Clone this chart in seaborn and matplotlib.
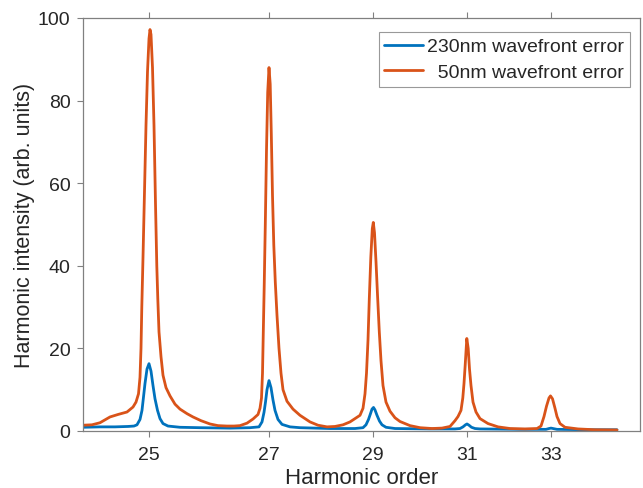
import numpy as np
import pandas as pd
import matplotlib
matplotlib.use("Agg")
import matplotlib.pyplot as plt
import seaborn as sns

# Detector position (axis units) and intensity
orange_x = [83, 92, 100, 110, 118, 127, 133, 136, 138.5, 140, 141, 141.8, 143, 144.5, 146, 147.5, 149, 150, 151,
            152.5, 154, 155.5, 156.8, 157.8, 159, 161, 163, 166, 170, 175, 180, 187, 193, 201, 210, 218, 227,
            234, 240, 247, 253, 258, 260, 261.5, 262.5, 263.3, 264.2, 265.3, 266.5, 267.7, 269, 270.2, 271.3,
            272.5, 273.8, 275.3, 277, 279, 281, 283, 287, 293, 300, 310, 318, 327, 335, 343, 350, 355, 360, 363,
            365, 366.5, 368, 369.3, 370.8, 372.3, 373.3, 374.5, 376, 377.5, 379.3, 381, 383, 386, 390, 395, 400,
            410, 420, 432, 442, 450, 455, 458, 461, 462.8, 464, 465.2, 466.8, 468.2, 469.5, 471, 473, 476, 480,
            488, 498, 510, 525, 537, 541, 544, 546.5, 549, 550.5, 552.5, 555, 557, 560, 565, 578, 595, 617]
orange_y = [1.4, 1.5, 2.0, 3.4, 4.0, 4.6, 5.8, 7, 9, 13, 20, 30, 42, 58, 74, 87, 95, 97.2, 96,
            88, 74, 55, 40, 32, 24, 18, 13.5, 10.5, 8.5, 6.5, 5.3, 4.2, 3.4, 2.5, 1.7, 1.3, 1.2,
            1.2, 1.3, 1.9, 2.9, 4.0, 5.5, 8, 14, 24, 35, 50, 68, 82, 88, 84, 72,
            57, 45, 36, 28, 20, 14, 10, 7.2, 5.3, 3.8, 2.2, 1.4, 1.0, 1.1, 1.5, 2.2, 3.0, 3.8, 5.5,
            9, 14, 22, 32, 42, 49, 50.5, 48, 41, 33, 24, 17, 11, 7, 4.8, 3.2, 2.3,
            1.3, 0.8, 0.6, 0.7, 1.1, 2.5, 3.5, 5, 8, 11.5, 16, 22.4, 20, 15, 11, 7, 4.6, 3,
            1.8, 1.0, 0.6, 0.5, 0.6, 1.2, 3.5, 6, 8, 8.5, 7.8, 5.5, 3.5, 1.8, 0.9, 0.5, 0.3, 0.25]

blue_x = [83, 100, 115, 128, 134, 137, 140, 142, 143.3, 145, 147, 149, 151, 153, 155, 157.5, 160, 163, 168, 180,
          200, 230, 250, 259, 262, 264, 265.5, 267, 269, 271, 273, 275, 278, 282, 290, 300, 330, 355, 363, 366,
          368.5, 370.5, 372, 373.5, 375, 377, 379.5, 382, 386, 395, 430, 455, 460, 463, 465.5, 467, 469, 471.5,
          475, 480, 520, 546, 549, 551, 553, 557, 590, 617]
blue_y = [0.9, 1.0, 1.0, 1.1, 1.2, 1.5, 2.8, 5, 7.8, 11.5, 15, 16.3, 14.5, 11, 7.8, 5, 3, 1.8, 1.2, 0.9,
          0.8, 0.7, 0.8, 1.0, 2.2, 4.5, 7, 10, 12.2, 10.5, 7.5, 5, 2.8, 1.6, 1.0, 0.8, 0.6, 0.6, 0.8, 1.5,
          2.8, 4.2, 5.3, 5.7, 5.1, 3.8, 2.4, 1.5, 0.9, 0.6, 0.5, 0.5, 0.6, 1.0, 1.5, 1.7, 1.4, 0.9,
          0.6, 0.5, 0.4, 0.4, 0.6, 0.7, 0.6, 0.4, 0.3, 0.3]

series_names = ["230nm wavefront error", "  50nm wavefront error"]
series_colors = ["#0072BD", "#D95319"]

tick_positions = [149, 269, 373, 467, 551]
tick_labels = ["25", "27", "29", "31", "33"]

df = pd.concat([
    pd.DataFrame({"pos": blue_x, "intensity": blue_y, "series": series_names[0]}),
    pd.DataFrame({"pos": orange_x, "intensity": orange_y, "series": series_names[1]}),
], ignore_index=True)

sns.set_style("white")
plt.rcParams["font.family"] = ["Liberation Sans", "DejaVu Sans"]

fig = plt.figure(figsize=(6.43, 4.89), dpi=100)
ax = fig.add_axes([83 / 643, 1 - 432 / 489, (640 - 83) / 643, (432 - 19) / 489])

sns.lineplot(data=df, x="pos", y="intensity", hue="series", hue_order=series_names,
             palette=series_colors, estimator=None, sort=False, linewidth=2.0, ax=ax)

ax.set_xlim(83, 640)
ax.set_ylim(0, 100)
ax.set_xticks(tick_positions)
ax.set_xticklabels(tick_labels)
ax.set_yticks([0, 20, 40, 60, 80, 100])

spine_col = "#808080"
for s in ax.spines.values():
    s.set_color(spine_col)
    s.set_linewidth(0.9)
ax.tick_params(axis="x", which="both", direction="out", length=4, color=spine_col,
               top=True, bottom=True, labelsize=14, labelcolor="#262626", pad=7)
ax.tick_params(axis="y", direction="out", length=4, color=spine_col, left=True, right=False,
               labelsize=14, labelcolor="#262626", pad=5)

ax.set_xlabel("Harmonic order", fontsize=16, color="#262626", labelpad=3)
ax.set_ylabel("Harmonic intensity (arb. units)", fontsize=15.5, color="#262626", labelpad=2)

handles, labels = ax.get_legend_handles_labels()
leg = ax.legend(handles, labels, loc="upper right", bbox_to_anchor=(0.982, 0.966),
                fontsize=14, frameon=True, fancybox=False,
                edgecolor="#999999", framealpha=1, borderpad=0.3, handlelength=2.0,
                handletextpad=0.2, labelspacing=0.4, borderaxespad=0.0)
leg.get_frame().set_linewidth(0.8)

fig.savefig("out.png", dpi=100)
